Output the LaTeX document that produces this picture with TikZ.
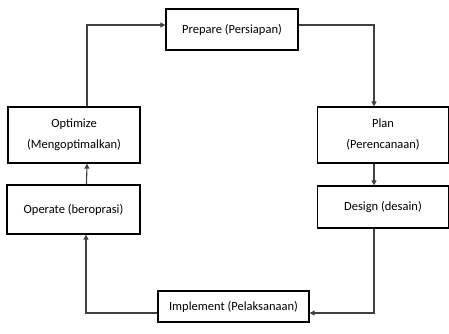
\documentclass[tikz,border=0pt]{standalone}
\usepackage{fontspec}
\setmainfont{Carlito}
\usetikzlibrary{arrows.meta}
\begin{document}
\begin{tikzpicture}[x=1pt,y=-1pt,
  box/.style={draw=black,line width=1.3pt,inner sep=0pt,align=center,font=\fontsize{12.5}{21}\selectfont},
  conn/.style={draw=black!75,line width=1.1pt,-{Triangle[length=5pt,width=5pt]}}]
\useasboundingbox (0,0) rectangle (449,333);
\node[box,minimum width=132pt,minimum height=41pt] (prep) at (232,29.5) {Prepare (Persiapan)};
\node[box,minimum width=132pt,minimum height=56pt] (opt) at (74,135) {Optimize\\(Mengoptimalkan)};
\node[box,minimum width=131pt,minimum height=56pt] (plan) at (383,135) {Plan\\(Perencanaan)};
\node[box,minimum width=133pt,minimum height=49pt] (oper) at (73.5,209.5) {Operate (beroprasi)};
\node[box,minimum width=131pt,minimum height=42pt] (des) at (383,207) {Design (desain)};
\node[box,minimum width=151pt,minimum height=31pt] (impl) at (233.5,306.5) {Implement (Pelaksanaan)};
\draw[conn] ([xshift=13pt]opt.north) |- ([yshift=4.5pt]prep.west);
\draw[conn] ([yshift=4.5pt]prep.east) -| ([xshift=-9pt]plan.north);
\draw[conn] ([xshift=-9pt]plan.south) -- ([xshift=-9pt]des.north);
\draw[conn] ([xshift=-9pt]des.south) |- ([yshift=-6.5pt]impl.east);
\draw[conn] ([yshift=-6.5pt]impl.west) -| ([xshift=12.5pt]oper.south);
\draw[conn] ([xshift=13pt]oper.north) -- ([xshift=13pt]opt.south);
\end{tikzpicture}
\end{document}
